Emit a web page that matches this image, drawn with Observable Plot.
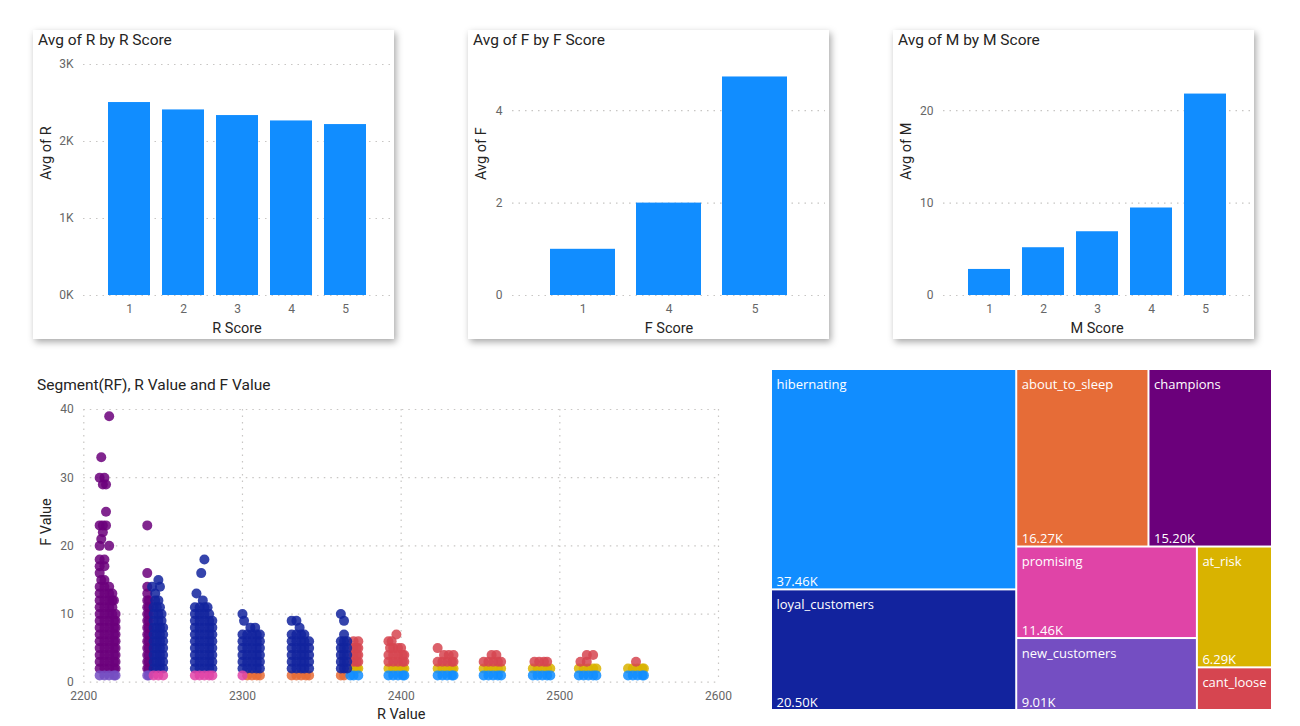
<!DOCTYPE html>
<html><head><meta charset="utf-8">
<script src="https://cdn.jsdelivr.net/npm/d3@7"></script>
<script src="https://cdn.jsdelivr.net/npm/@observablehq/plot@0.6"></script>
<style>
body{margin:0;background:#fff;width:1300px;height:726px;position:relative;overflow:hidden;font-family:Roboto,"DejaVu Sans",sans-serif;}
.card{position:absolute;background:#fff;box-shadow:2px 3px 7px rgba(0,0,0,0.35);}
.title{position:absolute;font-size:15.5px;color:#252423;line-height:18px;white-space:nowrap;font-family:Roboto,sans-serif;}
.chart{position:absolute;}
.chart svg{display:block;overflow:visible;}
</style></head><body>
<div class="card" style="left:33px;top:30px;width:361px;height:309px"></div>
<div class="card" style="left:468px;top:30px;width:361px;height:309px"></div>
<div class="card" style="left:893px;top:30px;width:361px;height:309px"></div>
<div class="title" style="left:38px;top:31px">Avg of R by R Score</div>
<div class="title" style="left:473px;top:31px">Avg of F by F Score</div>
<div class="title" style="left:898px;top:31px">Avg of M by M Score</div>
<div class="title" style="left:37px;top:376px">Segment(RF), R Value and F Value</div>
<div id="c1" class="chart" style="left:33px;top:50px"></div>
<div id="c2" class="chart" style="left:468px;top:50px"></div>
<div id="c3" class="chart" style="left:893px;top:50px"></div>
<div id="sc" class="chart" style="left:30px;top:398px"></div>
<div id="tm" class="chart" style="left:771px;top:369px"></div>
<script>
// ---------- Bar chart data ----------
const rScores = ["1","2","3","4","5"];
const avgR = [2506, 2410, 2337, 2267, 2220];
const rTicks = [0, 1000, 2000, 3000];

const fScores = ["1","4","5"];
const avgF = [1.0, 2.0, 4.73];
const fTicks = [0, 2, 4];

const mScores = ["1","2","3","4","5"];
const avgM = [2.82, 5.17, 6.9, 9.47, 21.8];
const mTicks = [0, 10, 20];

// ---------- Segments ----------
const segOrder = ["about_to_sleep","at_risk","cant_loose","champions","hibernating","loyal_customers","new_customers","promising"];
const segColors = ["#E66C37","#D9B300","#D64550","#6B007B","#118DFF","#12239E","#744EC2","#E044A7"];

// ---------- Scatter data: [R value, F values observed at that R] ----------
const aboutToSleep = [[2303,"1"],[2306,"1"],[2309,"1"],[2311,"1"],[2331,"1"],[2334,"1"],[2337,"1"],[2340,"1"],[2342,"1"],[2362,"1"],[2364,"1"]];
const atRisk = [[2370,"2"],[2372,"2"],[2373,"2"],
  [2392,"2"],[2395,"2"],[2398,"2"],[2401,"2"],[2402,"2"],
  [2423,"2"],[2426,"2"],[2429,"2"],[2432,"2"],[2433,"2"],
  [2452,"2"],[2455,"2"],[2458,"2"],[2461,"2"],[2463,"2"],
  [2483,"2"],[2486,"2"],[2489,"2"],[2492,"2"],[2494,"2"],
  [2512,"2"],[2515,"2"],[2518,"2"],[2521,"2"],[2523,"2"],
  [2543,"2"],[2546,"2"],[2549,"2"],[2552,"2"],[2553,"2"]];
const cantLoose = [[2370,"3-6"],[2372,"3-5"],[2373,"3-6"],
  [2392,"3,4,6"],[2393,"5"],[2394,"6"],[2395,"3-5"],[2397,"7"],[2398,"3-5"],[2400,"5"],[2401,"3,4"],[2402,"3,4"],
  [2423,"3,5"],[2426,"3"],[2427,"4"],[2429,"3"],[2430,"4"],[2432,"3"],[2433,"3,4"],
  [2452,"3"],[2455,"3"],[2457,"4"],[2458,"3"],[2460,"4"],[2461,"3"],[2463,"3"],
  [2484,"3"],[2487,"3"],[2490,"3"],[2492,"3"],
  [2513,"3"],[2517,"3,4"],[2521,"4"],
  [2548,"3"]];
const champions = [[2210,"2-14,16-18,20,23,30"],[2211,"15,21,33"],[2212,"22,23,29"],[2213,"2-15,17,18,30"],
  [2214,"23,25,29"],[2216,"2-14,20,39"],[2218,"10-13"],[2219,"2-9,12"],[2220,"2-10"],
  [2240,"2-14,16,23"],[2241,"2-12"]];
const hibernating = [[2368,"1"],[2370,"1"],[2373,"1"],
  [2392,"1"],[2395,"1"],[2398,"1"],[2401,"1"],[2402,"1"],
  [2423,"1"],[2426,"1"],[2429,"1"],[2432,"1"],[2433,"1"],
  [2452,"1"],[2455,"1"],[2458,"1"],[2461,"1"],[2463,"1"],
  [2483,"1"],[2486,"1"],[2489,"1"],[2492,"1"],[2494,"1"],
  [2512,"1"],[2515,"1"],[2518,"1"],[2521,"1"],[2523,"1"],
  [2543,"1"],[2546,"1"],[2549,"1"],[2552,"1"],[2553,"1"]];
const loyalCustomers = [[2243,"14"],[2244,"2-11"],[2245,"12,13"],[2246,"2-8,11"],[2247,"9,10,12,15"],[2248,"2-8,11,14"],[2249,"9,10"],[2250,"2-8"],
  [2270,"2-11"],[2271,"13"],[2273,"2-11"],[2274,"16"],[2275,"12"],[2276,"2-11,18"],[2278,"11"],[2279,"2-10"],[2281,"2-9"],
  [2300,"2-7,10"],[2301,"9"],[2303,"2-7"],[2305,"8"],[2306,"2-7"],[2308,"8"],[2309,"2-7"],[2311,"2-7"],
  [2331,"2-7,9"],[2334,"2-7,9"],[2336,"8"],[2337,"2-7"],[2339,"2-7"],[2342,"2-6"],
  [2362,"2-6,10"],[2364,"2-7,9"],[2366,"2-6"]];
const newCustomers = [[2210,"1"],[2213,"1"],[2216,"1"],[2219,"1"],[2220,"1"],[2240,"1"],[2241,"1"]];
const promising = [[2244,"1"],[2247,"1"],[2250,"1"],[2270,"1"],[2273,"1"],[2276,"1"],[2279,"1"],[2281,"1"],[2300,"1"]];
const scatterTicksX = [2200, 2300, 2400, 2500, 2600];
const scatterTicksY = [0, 10, 20, 30, 40];

// ---------- Treemap data ----------
const tmNames = ["hibernating","loyal_customers","about_to_sleep","champions","promising","new_customers","at_risk","cant_loose"];
const tmValues = [37460, 20500, 16270, 15200, 11460, 9010, 6290, 2220];

// ---------- helpers ----------
const FONT = "Roboto, sans-serif";
const gridStyle = {stroke: "#c8c6c4", strokeOpacity: 1, strokeDasharray: "1.5,5", strokeWidth: 1.2};
function parseF(spec) {
  return spec.split(",").flatMap(p => {
    if (p.includes("-")) { const [a, b] = p.split("-").map(Number); return d3.range(a, b + 1); }
    return [Number(p)];
  });
}
const segSources = {about_to_sleep: aboutToSleep, at_risk: atRisk, cant_loose: cantLoose, champions, hibernating, loyal_customers: loyalCustomers, new_customers: newCustomers, promising};
const points = segOrder.flatMap(seg => segSources[seg].flatMap(([r, spec]) => parseF(spec).map(f => ({seg, r, f}))));

function barChart(el, cats, vals, yDomain, yTicks, yFmt, xLabel, yLabel, mLeft, yLabelDx, pi, po) {
  const data = cats.map((c, i) => ({c, v: vals[i]}));
  const p = Plot.plot({
    width: 361, height: 290, marginLeft: mLeft, marginRight: 4, marginTop: 14, marginBottom: 45,
    style: {fontFamily: FONT, background: "transparent"},
    x: {domain: cats, paddingInner: pi, paddingOuter: po},
    y: {domain: yDomain},
    marks: [
      Plot.gridY(yTicks, gridStyle),
      Plot.barY(data, {x: "c", y: "v", fill: "#118DFF"}),
      Plot.axisX({tickSize: 0, tickPadding: 9, fontSize: 12, color: "#666", label: null}),
      Plot.axisY(yTicks, {tickSize: 0, tickPadding: 10, tickFormat: yFmt, fontSize: 12, color: "#666", label: null}),
      Plot.text([xLabel], {text: d => d, frameAnchor: "bottom", dy: 37, fontSize: 14.5, fill: "#252423"}),
      Plot.text([yLabel], {text: d => d, frameAnchor: "left", dx: yLabelDx, rotate: -90, fontSize: 14.5, fill: "#252423"})
    ]
  });
  document.getElementById(el).appendChild(p);
}

barChart("c1", rScores, avgR, [0, 3000], rTicks, d => `${d / 1000}K`, "R Score", "Avg of R", 50, -37, 0.23, 0.43);
barChart("c2", fScores, avgF, [0, 5], fTicks, d => `${d}`, "F Score", "Avg of F", 44, -31, 0.245, 0.43);
barChart("c3", mScores, avgM, [0, 25], mTicks, d => `${d}`, "M Score", "Avg of M", 50, -37, 0.23, 0.43);

// ---------- scatter ----------
const sc = Plot.plot({
  width: 712, height: 326, marginLeft: 53.3, marginRight: 24, marginTop: 11, marginBottom: 42.3,
  style: {fontFamily: FONT, background: "transparent"},
  x: {domain: [2200, 2600]},
  y: {domain: [0, 40]},
  color: {domain: segOrder, range: segColors},
  marks: [
    Plot.gridX(scatterTicksX, gridStyle),
    Plot.gridY(scatterTicksY, gridStyle),
    Plot.dot(points, {x: "r", y: "f", fill: "seg", r: 5, fillOpacity: 0.85}),
    Plot.axisX(scatterTicksX, {tickSize: 0, tickPadding: 9, tickFormat: d => `${d}`, fontSize: 12, color: "#666", label: null}),
    Plot.axisY(scatterTicksY, {tickSize: 0, tickPadding: 10, tickFormat: d => `${d}`, fontSize: 12, color: "#666", label: null}),
    Plot.text(["R Value"], {text: d => d, frameAnchor: "bottom", dy: 37, fontSize: 14.5, fill: "#252423"}),
    Plot.text(["F Value"], {text: d => d, frameAnchor: "left", dx: -37.5, rotate: -90, fontSize: 14.5, fill: "#252423"})
  ]
});
document.getElementById("sc").appendChild(sc);

// ---------- treemap ----------
const TW = 501, TH = 341;
const root = d3.hierarchy({children: tmNames.map((n, i) => ({name: n, value: tmValues[i]}))})
  .sum(d => d.value ?? 0).sort((a, b) => b.value - a.value);
d3.treemap().size([TW, TH]).tile(d3.treemapSquarify)(root);
const leaves = root.leaves().map(l => ({name: l.data.name, value: l.data.value, x0: l.x0, x1: l.x1, y0: l.y0, y1: l.y1}));
const tm = Plot.plot({
  width: TW, height: TH, margin: 0,
  style: {fontFamily: "'Open Sans', 'Noto Sans', sans-serif", background: "transparent"},
  x: {domain: [0, TW], range: [0, TW], axis: null},
  y: {domain: [0, TH], range: [0, TH], axis: null},
  color: {domain: segOrder, range: segColors},
  marks: [
    Plot.rect(leaves, {x1: "x0", x2: "x1", y1: "y0", y2: "y1", fill: "name", inset: 1}),
    Plot.text(leaves, {x: "x0", y: "y0", text: "name", dx: 5, dy: 19, textAnchor: "start", lineAnchor: "bottom", fill: "white", fontSize: 13}),
    Plot.text(leaves.filter(d => d.y1 - d.y0 > 50), {x: "x0", y: "y1", text: d => `${(d.value / 1000).toFixed(2)}K`, dx: 5, dy: -4, textAnchor: "start", lineAnchor: "bottom", fill: "white", fontSize: 13})
  ]
});
document.getElementById("tm").appendChild(tm);
</script>
</body></html>
